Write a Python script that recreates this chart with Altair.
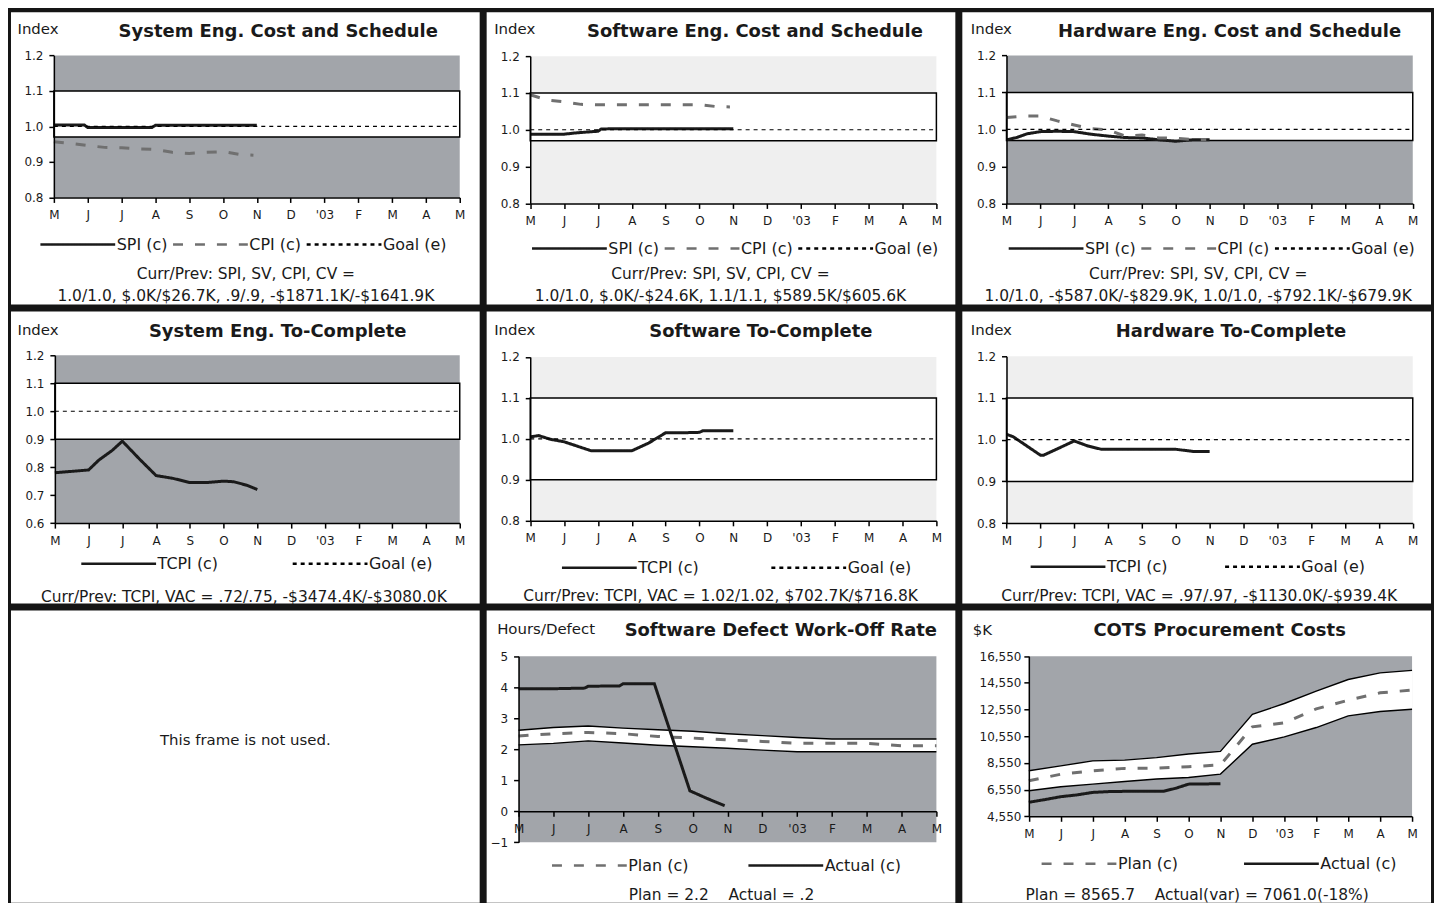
import json
import altair as alt
import pandas as pd

# ---------------------------------------------------------------- data
MONTHS = ["M", "J", "J", "A", "S", "O", "N", "D", "'03", "F", "M", "A", "M"]
MONTH_IDX = list(range(13))

GOAL_X = [0, 12]
GOAL_Y = [1.0, 1.0]

CS_Y_TICKS = [0.8, 0.9, 1.0, 1.1, 1.2]
CS_BAND = [0.97, 1.1]
TC_BAND = [0.9, 1.1]
SE_TC_Y_TICKS = [0.6, 0.7, 0.8, 0.9, 1.0, 1.1, 1.2]
TC_Y_TICKS = [0.8, 0.9, 1.0, 1.1, 1.2]
DEF_Y_TICKS = [-1, 0, 1, 2, 3, 4, 5]
COTS_Y_TICKS = [4550, 6550, 8550, 10550, 12550, 14550, 16550]

CS_SERIES = ["SPI (c)", "CPI (c)", "Goal (e)"]
TC_SERIES = ["TCPI (c)", "Goal (e)"]
PA_SERIES = ["Plan (c)", "Actual (c)"]

# System Eng. cost & schedule
SE_SPI_X = [0, 0.5, 0.9, 1.0, 1.5, 2.0, 2.5, 2.9, 3.0, 3.5, 4.0, 4.5, 5.0, 5.5, 6.0]
SE_SPI_Y = [1.004, 1.004, 1.004, 0.997, 0.997, 0.997, 0.997, 0.997, 1.003, 1.003, 1.003, 1.003, 1.003, 1.003, 1.003]
SE_CPI_X = [0, 0.5, 1.0, 1.5, 2.0, 2.5, 3.0, 3.5, 4.0, 4.5, 5.0, 5.5, 5.9]
SE_CPI_Y = [0.957, 0.952, 0.946, 0.941, 0.940, 0.937, 0.935, 0.927, 0.924, 0.927, 0.929, 0.921, 0.919]

# Software Eng. cost & schedule
SW_SPI_X = [0, 0.5, 1.0, 1.3, 1.7, 2.0, 2.1, 2.5, 3.0, 4.0, 5.0, 6.0]
SW_SPI_Y = [0.988, 0.988, 0.988, 0.991, 0.994, 0.996, 1.002, 1.003, 1.003, 1.003, 1.003, 1.003]
SW_CPI_X = [0, 0.5, 1.0, 1.5, 2.0, 2.5, 3.0, 3.5, 4.0, 4.5, 5.0, 5.5, 5.9]
SW_CPI_Y = [1.095, 1.081, 1.076, 1.069, 1.068, 1.068, 1.068, 1.068, 1.068, 1.068, 1.068, 1.063, 1.062]

# Hardware Eng. cost & schedule
HW_SPI_X = [0, 0.3, 0.6, 1.0, 1.5, 2.0, 2.5, 3.0, 3.5, 4.0, 4.5, 5.0, 5.5, 6.0]
HW_SPI_Y = [0.972, 0.978, 0.988, 0.994, 0.995, 0.994, 0.987, 0.982, 0.978, 0.977, 0.972, 0.968, 0.972, 0.972]
HW_CPI_X = [0, 0.5, 1.0, 1.5, 2.0, 2.5, 3.0, 3.5, 4.0, 4.5, 5.0, 5.5, 5.9]
HW_CPI_Y = [1.032, 1.036, 1.036, 1.023, 1.012, 1.002, 0.999, 0.982, 0.985, 0.977, 0.976, 0.973, 0.973]

# To-complete indices
SE_TCPI_X = [0, 0.5, 1.0, 1.3, 1.7, 2.0, 2.5, 3.0, 3.5, 4.0, 4.5, 5.0, 5.3, 5.7, 6.0]
SE_TCPI_Y = [0.78, 0.785, 0.79, 0.825, 0.86, 0.893, 0.83, 0.77, 0.76, 0.745, 0.745, 0.75, 0.748, 0.735, 0.72]
SW_TCPI_X = [0, 0.25, 0.6, 1.0, 1.4, 1.8, 2.5, 3.0, 3.5, 4.0, 4.5, 5.0, 5.1, 6.0]
SW_TCPI_Y = [1.005, 1.008, 0.999, 0.993, 0.982, 0.971, 0.971, 0.971, 0.99, 1.015, 1.015, 1.016, 1.02, 1.02]
HW_TCPI_X = [0, 0.2, 0.6, 1.0, 1.1, 1.5, 2.0, 2.4, 2.8, 3.5, 4.0, 4.5, 5.0, 5.5, 6.0]
HW_TCPI_Y = [1.013, 1.007, 0.985, 0.963, 0.963, 0.978, 0.997, 0.985, 0.977, 0.977, 0.977, 0.977, 0.977, 0.972, 0.972]

# Software defect work-off rate (monthly plan band)
DEF_PLAN = [2.43, 2.50, 2.54, 2.50, 2.41, 2.36, 2.30, 2.25, 2.19, 2.19, 2.19, 2.11, 2.11]
DEF_UPPER = [2.61, 2.70, 2.75, 2.68, 2.63, 2.58, 2.50, 2.44, 2.38, 2.33, 2.33, 2.33, 2.33]
DEF_LOWER = [2.14, 2.19, 2.27, 2.20, 2.13, 2.08, 2.03, 1.97, 1.92, 1.92, 1.92, 1.92, 1.92]
DEF_ACT_X = [0, 1.0, 1.9, 2.0, 2.9, 3.0, 3.9, 4.92, 5.4, 5.92]
DEF_ACT_Y = [3.95, 3.95, 3.97, 4.03, 4.04, 4.11, 4.11, 0.66, 0.42, 0.18]

# COTS procurement costs ($K)
COTS_PLAN = [7210, 7700, 7960, 8140, 8160, 8260, 8400, 11250, 11550, 12600, 13250, 13800, 14010]
COTS_UPPER = [7960, 8330, 8700, 8760, 8950, 9220, 9410, 12190, 13000, 13930, 14800, 15300, 15480]
COTS_LOWER = [6460, 6760, 6960, 7160, 7340, 7460, 7710, 9950, 10500, 11200, 12070, 12400, 12570]
COTS_ACT_X = [0, 0.5, 1.0, 1.5, 2.0, 2.5, 3.0, 4.2, 4.6, 5.0, 6.0]
COTS_ACT_Y = [5600, 5800, 6020, 6150, 6340, 6400, 6420, 6420, 6650, 6960, 6990]

# texts
CS_NOTE_HEAD = "Curr/Prev: SPI, SV, CPI, CV ="
SE_NOTE = "1.0/1.0, $.0K/$26.7K, .9/.9, -$1871.1K/-$1641.9K"
SW_NOTE = "1.0/1.0, $.0K/-$24.6K, 1.1/1.1, $589.5K/$605.6K"
HW_NOTE = "1.0/1.0, -$587.0K/-$829.9K, 1.0/1.0, -$792.1K/-$679.9K"
SE_TC_NOTE = "Curr/Prev: TCPI, VAC = .72/.75, -$3474.4K/-$3080.0K"
SW_TC_NOTE = "Curr/Prev: TCPI, VAC = 1.02/1.02, $702.7K/$716.8K"
HW_TC_NOTE = "Curr/Prev: TCPI, VAC = .97/.97, -$1130.0K/-$939.4K"
DEF_NOTE = "Plan = 2.2\u00a0\u00a0\u00a0\u00a0Actual = .2"
COTS_NOTE = "Plan = 8565.7\u00a0\u00a0\u00a0\u00a0Actual(var) = 7061.0(-18%)"
UNUSED_TEXT = "This frame is not used."

# ---------------------------------------------------------------- style
FONT = "DejaVu Sans"
INK = "#1a1a1a"
DARK = "#a2a5aa"
LIGHT = "#efefef"
GRAY_LINE = "#707070"
MONTH_EXPR = json.dumps(MONTHS) + "[datum.value]"
SYMBOL_LEN = 75


def x_scale(L):
    return alt.Scale(domain=[MONTH_IDX[0], MONTH_IDX[-1]], range=L["xr"], nice=False, zero=False)


def x_axis(L, h, note):
    return alt.Axis(values=MONTH_IDX, labelExpr=MONTH_EXPR, offset=L.get("xa", L["yr"][0]) - h,
                    tickSize=5, labelPadding=7, domainColor="black", tickColor="black",
                    domainWidth=1.5, tickWidth=1.5, labelFont=FONT, labelFontSize=12,
                    labelColor=INK, grid=False, zindex=1, labelFlush=False, labelOverlap=False,
                    title=note, titleX=L["ax"], titleY=L["ay"], titleAlign="center",
                    titleBaseline="middle", titleFont=FONT, titleFontSize=15.5,
                    titleFontWeight="normal", titleColor=INK, titleLineHeight=22)


def title_axis(L, text):
    # a label-less top axis that carries the panel heading
    return alt.Axis(orient="top", offset=0, labels=False, ticks=False, domain=False, grid=False,
                    minExtent=0, maxExtent=0, zindex=1,
                    title=text, titleX=L["hx"], titleY=L["hy"], titleAlign="center",
                    titleBaseline="middle", titleFont=FONT, titleFontSize=18,
                    titleFontWeight="bold", titleColor=INK)


def y_axis(L, ytitle, ticks, fmt):
    return alt.Axis(values=ticks, format=fmt, offset=-L["xr"][0], tickSize=5,
                    labelPadding=L.get("lp", 6), domainColor="black", tickColor="black",
                    domainWidth=1.5, tickWidth=1.5, labelFont=FONT, labelFontSize=12,
                    labelColor=INK, grid=False, zindex=1, labelFlush=False, labelOverlap=False,
                    title=ytitle, titleAngle=0, titleX=L["tx"], titleY=L["ty"],
                    titleAlign="left", titleBaseline="middle", titleFont=FONT,
                    titleFontSize=15, titleFontWeight="normal", titleColor=INK)


def legend(L):
    return alt.Legend(title=None, orient="none", legendX=L["lx"], legendY=L["ly"] - 10,
                      direction="horizontal", symbolType="stroke",
                      symbolSize=SYMBOL_LEN * SYMBOL_LEN, symbolStrokeWidth=2.5,
                      labelFont=FONT, labelFontSize=16, labelColor=INK, labelOffset=0,
                      columnPadding=L["cp"], clipHeight=20, padding=0)


def long_df(names, xs_list, ys_list):
    rows = []
    for n, xs, ys in zip(names, xs_list, ys_list):
        rows += [{"x": a, "y": b, "series": n} for a, b in zip(xs, ys)]
    return pd.DataFrame(rows)


def encoders(L, h, y_dom, ticks, fmt, ytitle, note, ttl):
    X = alt.X("x:Q", scale=x_scale(L), axis=x_axis(L, h, note))
    XT = alt.X("x:Q", scale=x_scale(L), axis=title_axis(L, ttl))
    X0 = alt.X("x:Q", scale=x_scale(L), axis=None)
    Y = alt.Y("y:Q", scale=alt.Scale(domain=y_dom, range=L["yr"], nice=False, zero=False),
              axis=y_axis(L, ytitle, ticks, fmt))
    return X, XT, X0, Y


def series_layer(df, X, Y, L, domain, colors, dashes):
    leg = legend(L)
    return alt.Chart(df).mark_line(clip=True).encode(
        x=X, y=Y,
        color=alt.Color("series:N", scale=alt.Scale(domain=domain, range=colors), legend=leg),
        strokeDash=alt.StrokeDash("series:N", scale=alt.Scale(domain=domain, range=dashes), legend=leg),
        strokeWidth=alt.condition(alt.datum.series == "Goal (e)", alt.value(1.2), alt.value(3)),
    )


def extent_df(y_dom):
    return pd.DataFrame({"x": [MONTH_IDX[0]], "x_end": [MONTH_IDX[-1]],
                         "y": [y_dom[0]], "y_end": [y_dom[1]]})


def index_panel(w, h, L, names, xs, ys, colors, dashes, y_dom, ticks, band, fill, ttl, note):
    X, XT, X0, Y = encoders(L, h, y_dom, ticks, ".1f", "Index", note, ttl)
    bg = alt.Chart(extent_df(y_dom)).mark_rect(fill=fill, strokeWidth=0).encode(
        x=XT, x2="x_end", y=Y, y2="y_end")
    ok = alt.Chart(extent_df(band)).mark_rect(fill="white", stroke="black", strokeWidth=1.5).encode(
        x=X0, x2="x_end", y=Y, y2="y_end")
    lines = series_layer(long_df(names, xs, ys), X, Y, L, names, colors, dashes)
    return alt.layer(bg, ok, lines).resolve_axis(x="independent").properties(width=w, height=h)


def plan_panel(w, h, L, plan, upper, lower, act_x, act_y, y_dom, ticks, fmt, ytitle, ttl, note):
    X, XT, X0, Y = encoders(L, h, y_dom, ticks, fmt, ytitle, note, ttl)
    bg = alt.Chart(extent_df(y_dom)).mark_rect(fill=DARK, strokeWidth=0).encode(
        x=XT, x2="x_end", y=Y, y2="y_end")
    band_df = pd.DataFrame({"x": MONTH_IDX, "y": upper, "y_end": lower})
    area = alt.Chart(band_df).mark_area(color="white").encode(x=X0, y=Y, y2="y_end")
    bounds_df = pd.concat([
        pd.DataFrame({"x": MONTH_IDX, "y": upper, "bound": "upper"}),
        pd.DataFrame({"x": MONTH_IDX, "y": lower, "bound": "lower"}),
    ])
    bnd = alt.Chart(bounds_df).mark_line(color="black", strokeWidth=1.4).encode(
        x=X0, y=Y, detail="bound:N")
    df = long_df(PA_SERIES, [MONTH_IDX, act_x], [plan, act_y])
    lines = series_layer(df, X, Y, L, PA_SERIES, [GRAY_LINE, INK], [[10, 12], [1, 0]])
    return alt.layer(bg, area, bnd, lines).resolve_axis(x="independent").properties(width=w, height=h)


# ---------------------------------------------------------------- layout (pixels, per panel)
PW = 470
PH = 293

L1 = dict(xr=[43, 450], yr=[185.7, 43.3], tx=-37, ty=16.5, hx=267.5, hy=19,
          lx=28, ly=233, cp=4, ax=235, ay=76.3)
L2 = dict(xr=[43.7, 451], yr=[191.7, 44], tx=-36.7, ty=16, hx=268.5, hy=19,
          lx=44, ly=237, cp=4, ax=234, ay=70.3)
L3 = dict(xr=[44.3, 451.7], yr=[191.7, 43.3], tx=-36.3, ty=16, hx=267.5, hy=19,
          lx=45, ly=237, cp=4, ax=236, ay=70.3)
L4 = dict(xr=[44, 450], yr=[212.3, 44], tx=-38, ty=18, hx=267, hy=20,
          lx=69, ly=253, cp=73, ax=233, ay=73.7)
L5 = dict(xr=[43.7, 451], yr=[210, 45.7], tx=-36.7, ty=18, hx=274.5, hy=20,
          lx=74, ly=257, cp=71, ax=234, ay=75)
L6 = dict(xr=[44.3, 451.7], yr=[212.3, 45], tx=-36.3, ty=18, hx=269, hy=20,
          lx=67, ly=256, cp=56, ax=237, ay=72.7)
L8 = dict(xr=[32, 451], yr=[232.4, 45.7], xa=201.3, tx=-22, ty=18, hx=294.5, hy=20,
          lx=64, ly=255.7, cp=58, ax=235, ay=83.7)
L9 = dict(xr=[66.7, 451], yr=[206.3, 45.7], tx=-56.7, ty=19, hx=257.5, hy=20,
          lx=78, ly=254, cp=64, ax=235, ay=78.7, lp=3)

CS_COLORS = [INK, GRAY_LINE, "black"]
CS_DASHES = [[1, 0], [10, 12], [4, 4]]
TC_COLORS = [INK, "black"]
TC_DASHES = [[1, 0], [4, 4]]

p1 = index_panel(PW, PH, L1, CS_SERIES, [SE_SPI_X, SE_CPI_X, GOAL_X], [SE_SPI_Y, SE_CPI_Y, GOAL_Y],
                 CS_COLORS, CS_DASHES, [0.8, 1.2], CS_Y_TICKS, CS_BAND, DARK,
                 "System Eng. Cost and Schedule", [CS_NOTE_HEAD, SE_NOTE])
p2 = index_panel(PW, PH, L2, CS_SERIES, [SW_SPI_X, SW_CPI_X, GOAL_X], [SW_SPI_Y, SW_CPI_Y, GOAL_Y],
                 CS_COLORS, CS_DASHES, [0.8, 1.2], CS_Y_TICKS, CS_BAND, LIGHT,
                 "Software Eng. Cost and Schedule", [CS_NOTE_HEAD, SW_NOTE])
p3 = index_panel(PW, PH, L3, CS_SERIES, [HW_SPI_X, HW_CPI_X, GOAL_X], [HW_SPI_Y, HW_CPI_Y, GOAL_Y],
                 CS_COLORS, CS_DASHES, [0.8, 1.2], CS_Y_TICKS, CS_BAND, DARK,
                 "Hardware Eng. Cost and Schedule", [CS_NOTE_HEAD, HW_NOTE])
p4 = index_panel(PW, PH, L4, TC_SERIES, [SE_TCPI_X, GOAL_X], [SE_TCPI_Y, GOAL_Y],
                 TC_COLORS, TC_DASHES, [0.6, 1.2], SE_TC_Y_TICKS, TC_BAND, DARK,
                 "System Eng. To-Complete", SE_TC_NOTE)
p5 = index_panel(PW, PH, L5, TC_SERIES, [SW_TCPI_X, GOAL_X], [SW_TCPI_Y, GOAL_Y],
                 TC_COLORS, TC_DASHES, [0.8, 1.2], TC_Y_TICKS, TC_BAND, LIGHT,
                 "Software To-Complete", SW_TC_NOTE)
p6 = index_panel(PW, PH, L6, TC_SERIES, [HW_TCPI_X, GOAL_X], [HW_TCPI_Y, GOAL_Y],
                 TC_COLORS, TC_DASHES, [0.8, 1.2], TC_Y_TICKS, TC_BAND, LIGHT,
                 "Hardware To-Complete", HW_TC_NOTE)

p7_bg = alt.Chart(pd.DataFrame({"t": [UNUSED_TEXT]})).mark_rect(fill="white").encode(
    x=alt.value(0), x2=alt.value("width"), y=alt.value(0), y2=alt.value("height"))
p7_txt = alt.Chart(pd.DataFrame({"t": [UNUSED_TEXT]})).mark_text(
    font=FONT, fontSize=15, color=INK, dy=-17).encode(text="t:N")
p7 = alt.layer(p7_bg, p7_txt).properties(width=PW, height=PH)

p8 = plan_panel(PW, PH, L8, DEF_PLAN, DEF_UPPER, DEF_LOWER, DEF_ACT_X, DEF_ACT_Y,
                [-1, 5], DEF_Y_TICKS, "d", "Hours/Defect", "Software Defect Work-Off Rate", DEF_NOTE)
p9 = plan_panel(PW, PH, L9, COTS_PLAN, COTS_UPPER, COTS_LOWER, COTS_ACT_X, COTS_ACT_Y,
                [4550, 16550], COTS_Y_TICKS, ",.0f", "$K", "COTS Procurement Costs", COTS_NOTE)

chart = alt.concat(p1, p2, p3, p4, p5, p6, p7, p8, p9, columns=3, spacing=7, bounds="flush").properties(
    background="#151515", padding={"left": 3, "top": 3, "right": 3, "bottom": 3}
).resolve_scale(color="independent", strokeDash="independent").resolve_legend(
    color="independent", strokeDash="independent"
).configure_view(fill="white", strokeWidth=0)

chart.save("out.html", embed_options={"renderer": "svg", "actions": False})
